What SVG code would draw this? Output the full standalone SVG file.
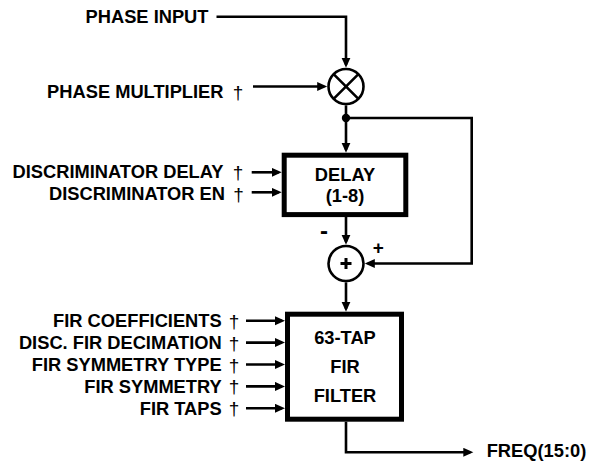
<svg xmlns="http://www.w3.org/2000/svg" width="595" height="462" viewBox="0 0 595 462">
<style>
text{font-family:"Liberation Sans",Arial,sans-serif;font-weight:bold;font-size:18.3px;fill:#000}
.lbl{text-anchor:end}
.ctr{text-anchor:middle}
.dg{text-anchor:middle;font-weight:normal;font-size:19px}
.wire{fill:none;stroke:#000;stroke-width:2.6}
.arr{marker-end:url(#ah)}
.box{fill:#fff;stroke:#000;stroke-width:5}
.op{fill:#fff;stroke:#000;stroke-width:2.6}
.sym{fill:none;stroke:#000;stroke-width:2.6}
</style>
<defs>
<marker id="ah" markerUnits="userSpaceOnUse" markerWidth="11" markerHeight="10" refX="7" refY="4.5" orient="auto">
<path d="M0,0 L10,4.5 L0,9 z" fill="#000"/>
</marker>
</defs>
<rect width="595" height="462" fill="#fff"/>
<g id="connectors">
<path class="wire arr" d="M216.5,16.7 H346 V64.7"/>
<path class="wire arr" d="M253,86.5 H324.2"/>
<path class="wire arr" d="M346,105.3 V149.7"/>
<path class="wire arr" d="M346,118 H471.7 V263.5 H367.8"/>
<path class="wire arr" d="M346,217 V241.7"/>
<path class="wire arr" d="M346,282.3 V308.7"/>
<path class="wire arr" d="M346,421.7 V452.3 H470.3"/>
<path class="wire arr" d="M251.7,172.3 H278.7"/>
<path class="wire arr" d="M251.7,192.3 H278.7"/>
<path class="wire arr" d="M246,320.7 H282"/>
<path class="wire arr" d="M246,342.6 H282"/>
<path class="wire arr" d="M246,364.5 H282"/>
<path class="wire arr" d="M246,386.4 H282"/>
<path class="wire arr" d="M246,408.3 H282"/>
<circle cx="346" cy="118" r="4.2" fill="#000"/>
<text x="324" y="238.5" class="ctr" style="font-size:24px">-</text>
<text x="378.3" y="254" class="ctr" style="font-size:19px">+</text>
</g>
<g id="phase-input"><text x="208.5" y="23.3" class="lbl">PHASE INPUT</text></g>
<g id="phase-multiplier"><text x="223.5" y="98.3" class="lbl">PHASE MULTIPLIER</text><text x="238" y="99" class="dg">†</text></g>
<g id="disc-delay"><text x="223.5" y="178.3" class="lbl">DISCRIMINATOR DELAY</text><text x="238" y="179" class="dg">†</text></g>
<g id="disc-en"><text x="225" y="200" class="lbl">DISCRIMINATOR EN</text><text x="238.5" y="200.7" class="dg">†</text></g>
<g id="fir-coef"><text x="221.7" y="327" class="lbl">FIR COEFFICIENTS</text><text x="234" y="327.7" class="dg">†</text></g>
<g id="fir-dec"><text x="221.7" y="348.9" class="lbl">DISC. FIR DECIMATION</text><text x="234" y="349.6" class="dg">†</text></g>
<g id="fir-symtype"><text x="221.7" y="370.8" class="lbl">FIR SYMMETRY TYPE</text><text x="234" y="371.5" class="dg">†</text></g>
<g id="fir-sym"><text x="221.7" y="392.7" class="lbl">FIR SYMMETRY</text><text x="234" y="393.4" class="dg">†</text></g>
<g id="fir-taps"><text x="221.7" y="414.6" class="lbl">FIR TAPS</text><text x="234" y="415.3" class="dg">†</text></g>
<g id="multiplier">
<circle class="op" cx="346" cy="86.5" r="17.5"/>
<path class="sym" d="M333.6,74.1 L358.4,98.9 M358.4,74.1 L333.6,98.9"/>
</g>
<g id="delay">
<rect class="box" x="284.2" y="155.2" width="121.6" height="59.4"/>
<text x="345" y="180.7" class="ctr">DELAY</text>
<text x="345" y="201.7" class="ctr">(1-8)</text>
</g>
<g id="adder">
<circle class="op" cx="346" cy="263.5" r="17.5"/>
<path d="M340.5,263.5 H351.5 M346,258 V269" stroke="#000" stroke-width="3" fill="none"/>
</g>
<g id="fir">
<rect class="box" x="287.5" y="314.2" width="114" height="105"/>
<text x="345" y="344" class="ctr">63-TAP</text>
<text x="345" y="373" class="ctr">FIR</text>
<text x="345" y="402" class="ctr">FILTER</text>
</g>
<g id="freq-out"><text x="486.7" y="456.7">FREQ(15:0)</text></g>
</svg>
